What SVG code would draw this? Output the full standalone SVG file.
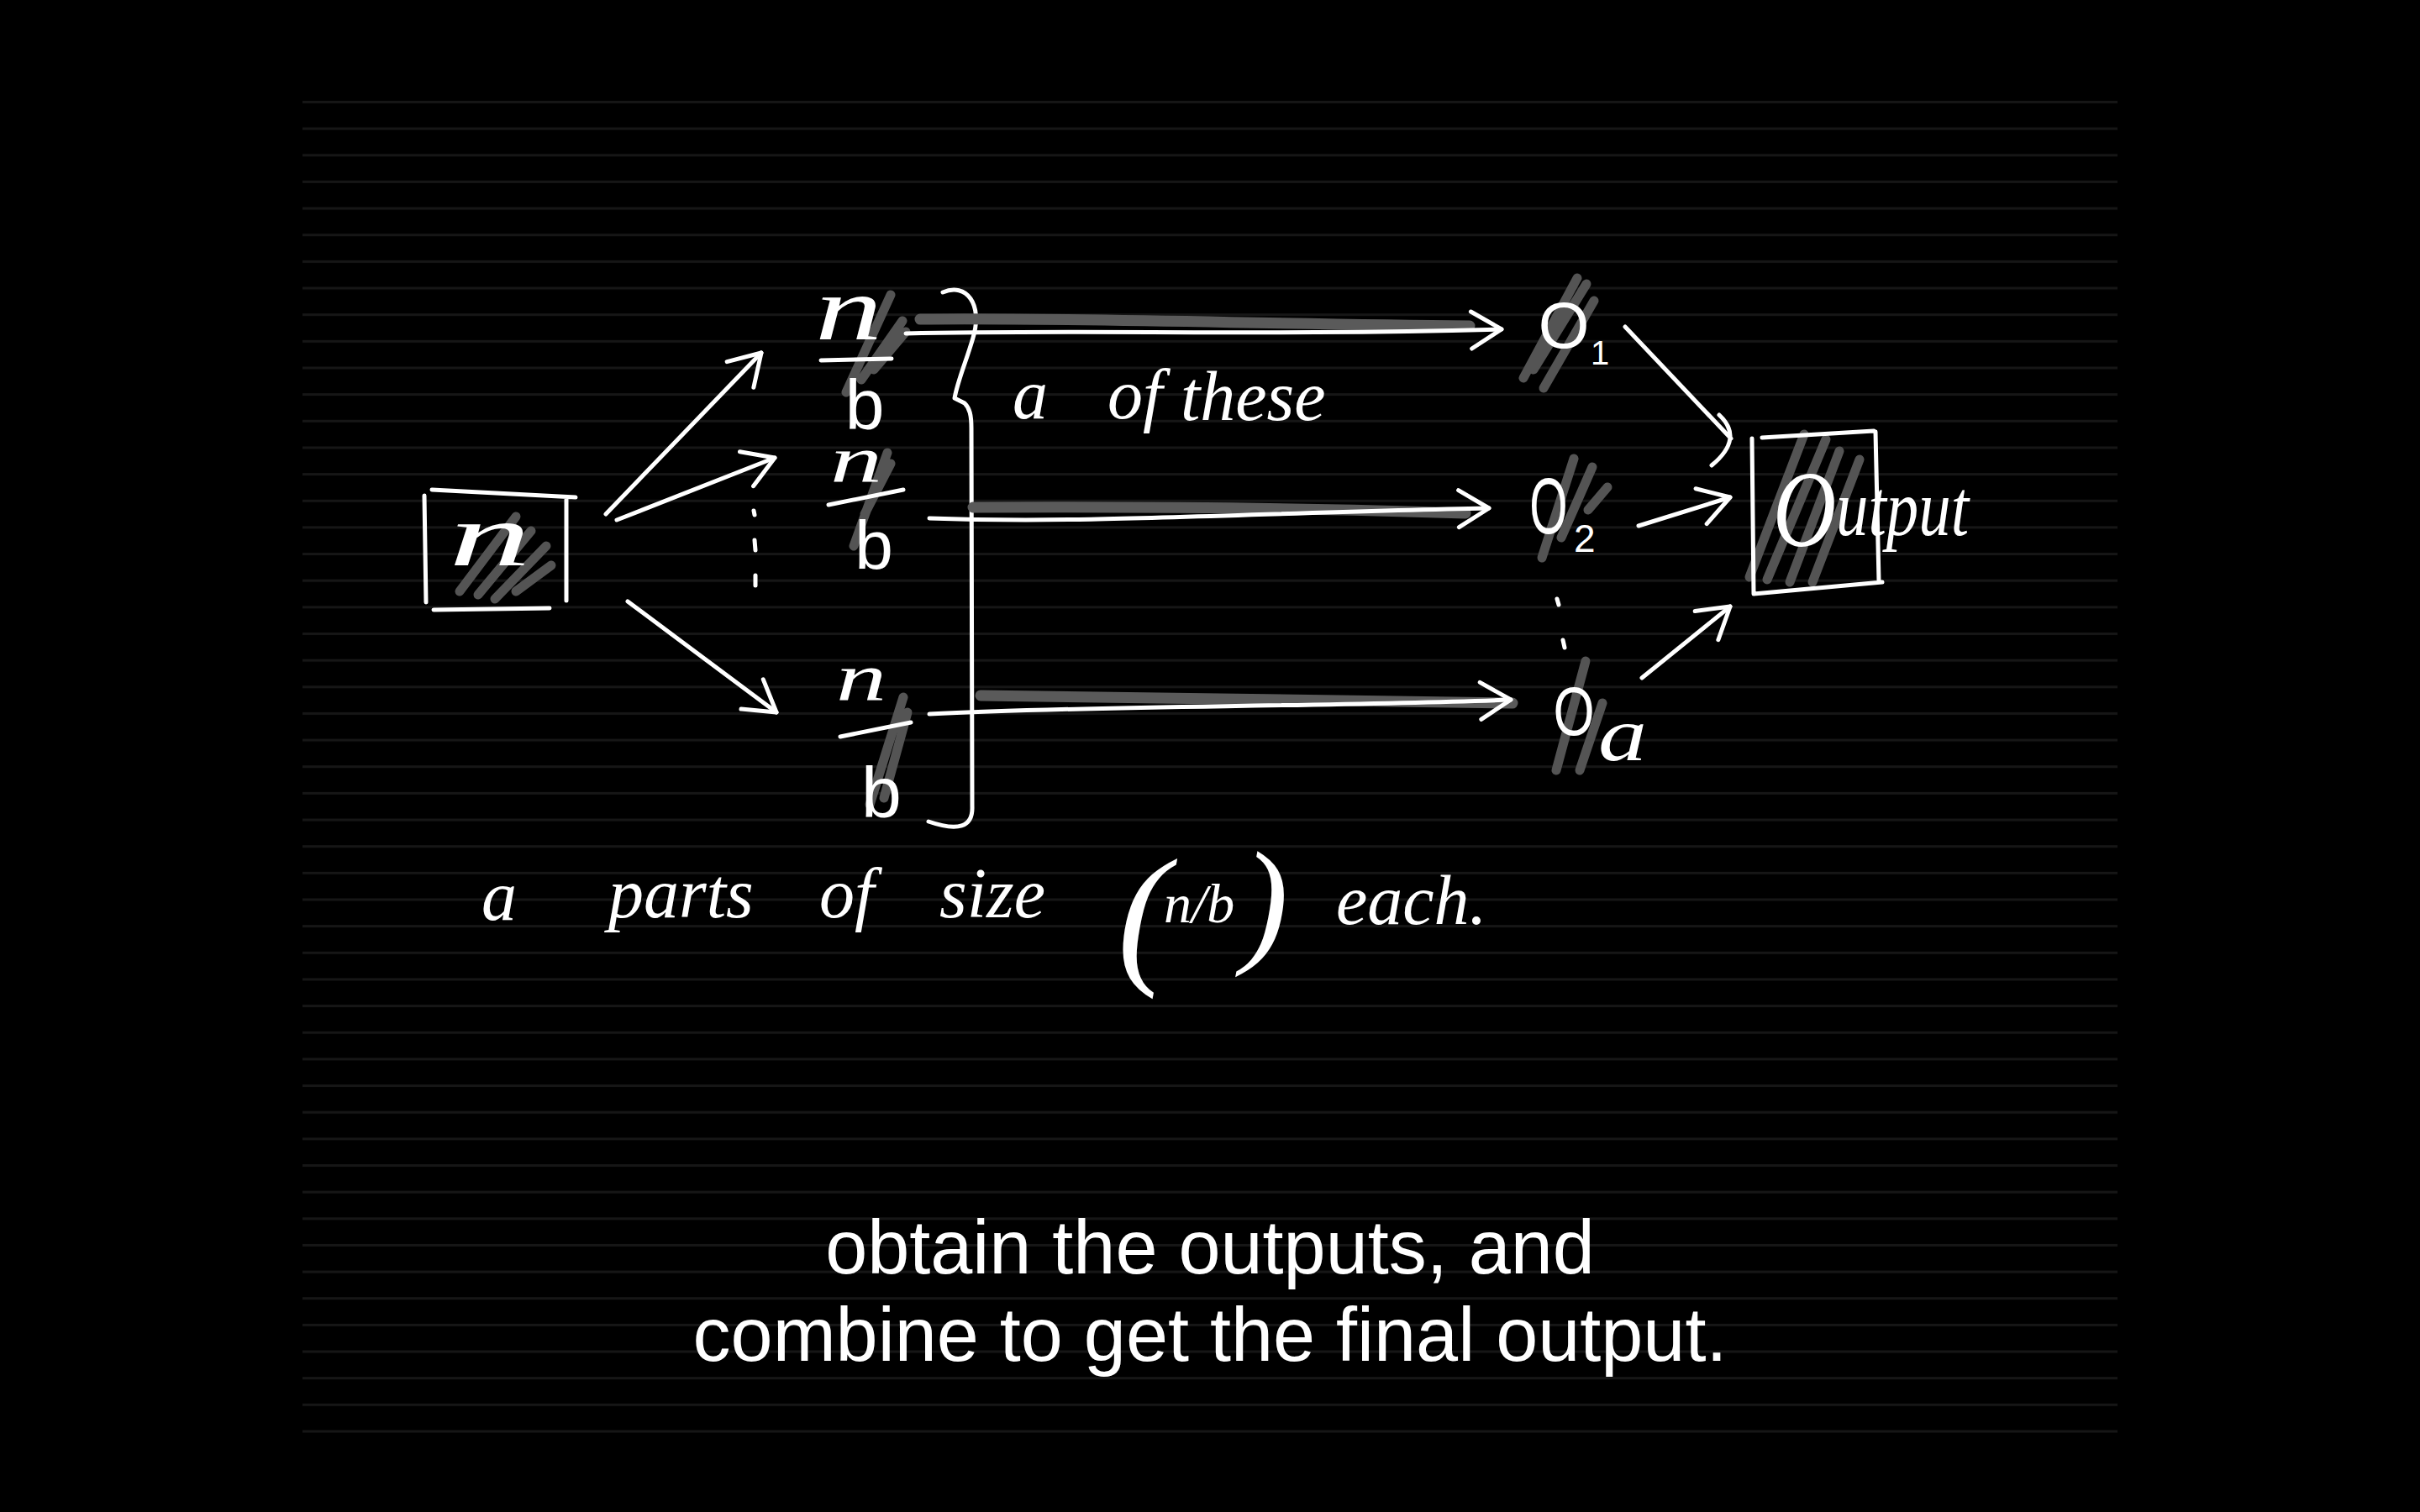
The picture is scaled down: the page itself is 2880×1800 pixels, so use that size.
<svg xmlns="http://www.w3.org/2000/svg" width="2880" height="1800" viewBox="0 0 2880 1800">
<defs>
<pattern id="rules" x="360" y="120" width="2160" height="31.65" patternUnits="userSpaceOnUse">
<rect x="0" y="0" width="2160" height="3" fill="#161616"/>
</pattern>
<marker id="head" markerUnits="userSpaceOnUse" markerWidth="50" markerHeight="50" viewBox="0 0 50 50" refX="46" refY="25" orient="auto">
<path d="M10,3 L46,25 L10,47" fill="none" stroke="#fff" stroke-width="5" stroke-linecap="round" stroke-linejoin="round"/>
</marker>
<style>
.ink{fill:none;stroke:#fff;stroke-width:5;stroke-linecap:round;stroke-linejoin:round}
.hatch{fill:none;stroke:#545454;stroke-width:11;stroke-linecap:round}
.band{fill:none;stroke:#5a5a5a;stroke-width:13;stroke-linecap:round}
.hand{font-family:"Liberation Serif","DejaVu Serif",serif;font-style:italic;fill:#fff}
.hb{font-family:"Liberation Sans","DejaVu Sans",sans-serif;fill:#fff}
.cap{font-family:"Liberation Sans",Arial,sans-serif;font-size:90px;fill:#fff}
</style>
</defs>
<rect width="2880" height="1800" fill="#000"/>
<rect id="ruled-paper" x="360" y="120" width="2160" height="1586" fill="url(#rules)"/>

<g id="node-n">
<path class="hatch" d="M547,704 L614,615 M569,708 L632,632 M589,713 L650,650 M614,704 L656,673"/>
<path class="ink" d="M505,590 L507,717 M514,583 L685,592 M674,595 L674,715 M516,726 L654,724"/>
<text class="hand" x="583" y="673" text-anchor="middle" font-size="105" textLength="98" lengthAdjust="spacingAndGlyphs">n</text>
</g>

<g id="node-nb1">
<path class="hatch" d="M1007,467 L1060,351 M1025,452 L1074,382 M1040,440 L1078,395"/>
<text class="hand" x="1010" y="404" text-anchor="middle" font-size="108" textLength="80" lengthAdjust="spacingAndGlyphs">n</text>
<path class="ink" d="M977,429 L1061,427"/>
<text class="hb" x="1029" y="511" text-anchor="middle" font-size="84">b</text>
</g>

<g id="node-nb2">
<path class="hatch" d="M1016,650 L1056,539 M1029,612 L1060,552"/>
<text class="hand" x="1019" y="574" text-anchor="middle" font-size="78" textLength="62" lengthAdjust="spacingAndGlyphs">n</text>
<path class="ink" d="M986,601 L1075,583"/>
<text class="hb" x="1040" y="677" text-anchor="middle" font-size="82">b</text>
</g>

<g id="node-nb3">
<path class="hatch" d="M1035,958 L1075,830 M1052,950 L1080,848"/>
<text class="hand" x="1025" y="833" text-anchor="middle" font-size="80" textLength="60" lengthAdjust="spacingAndGlyphs">n</text>
<path class="ink" d="M1000,877 L1084,860"/>
<text class="hb" x="1049" y="973" text-anchor="middle" font-size="86">b</text>
</g>

<g id="dots-left">
<path class="ink" d="M897,608 L898,613 M898,643 L899,655 M899,685 L899,697"/>
</g>

<g id="brace">
<path class="ink" d="M1122,348 C1150,336 1170,362 1158,402 C1150,430 1140,452 1136,474 L1148,480 C1154,486 1156,494 1156,510 L1157,960 C1158,985 1140,990 1105,978"/>
</g>

<g id="note-these">
<text class="hand" font-size="84"><tspan x="1205" y="498">a </tspan><tspan x="1318" y="498">of </tspan><tspan x="1405" y="500">these</tspan></text>
</g>

<g id="node-o1">
<path class="hatch" d="M1813,450 L1877,331 M1837,462 L1897,358 M1825,440 L1888,338"/>
<text class="hb" x="1861" y="414" text-anchor="middle" font-size="78">O</text>
<text class="hb" x="1893" y="434" font-size="40">1</text>
</g>

<g id="node-o2">
<path class="hatch" d="M1835,664 L1873,546 M1890,607 L1913,580 M1858,640 L1895,556"/>
<text class="hb" transform="translate(1843,635) scale(0.62,1)" text-anchor="middle" font-size="94">O</text>
<text class="hb" x="1873" y="657" font-size="46">2</text>
</g>

<g id="dots-right">
<path class="ink" d="M1853,713 L1855,720 M1860,762 L1862,771"/>
</g>

<g id="node-oa">
<path class="hatch" d="M1852,917 L1887,787 M1880,917 L1907,837"/>
<text class="hb" transform="translate(1873,875) scale(0.77,1)" text-anchor="middle" font-size="82">O</text>
<text class="hand" x="1902" y="905" font-size="90" textLength="58" lengthAdjust="spacingAndGlyphs">a</text>
</g>

<g id="node-output">
<path class="hatch" d="M2082,687 L2147,517 M2103,690 L2173,523 M2130,693 L2189,537 M2157,693 L2213,547"/>
<path class="ink" d="M2085,522 L2087,707 M2097,521 L2230,513 M2232,514 L2236,692 M2240,693 L2087,707"/>
<text class="hand" transform="translate(2110,650) scale(0.8,1)"><tspan font-size="130">O</tspan><tspan font-size="96" dy="-13">utput</tspan></text>
</g>

<g id="connectors">
<path class="band" d="M1095,380 C1300,378 1500,386 1749,388 M1158,604 C1400,603 1600,606 1744,611 M1167,828 C1400,830 1600,834 1800,837"/>
<path class="ink" marker-end="url(#head)" d="M721,612 L906,420"/>
<path class="ink" marker-end="url(#head)" d="M734,619 L922,545"/>
<path class="ink" marker-end="url(#head)" d="M747,716 L924,848"/>
<path class="ink" marker-end="url(#head)" d="M1078,397 C1300,392 1500,400 1787,392"/>
<path class="ink" marker-end="url(#head)" d="M1106,617 C1300,624 1500,610 1772,605"/>
<path class="ink" marker-end="url(#head)" d="M1106,850 C1300,840 1550,842 1798,833"/>
<path class="ink" d="M1934,389 L2060,522 M2046,494 Q2076,522 2037,554"/>
<path class="ink" marker-end="url(#head)" d="M1950,626 L2059,592"/>
<path class="ink" marker-end="url(#head)" d="M1954,807 L2059,722"/>
</g>

<g id="note-parts">
<text class="hand" font-size="84"><tspan x="573" y="1095">a </tspan><tspan x="724" y="1092">parts </tspan><tspan x="975" y="1092">of </tspan><tspan x="1118" y="1092">size </tspan><tspan x="1330" y="1150" font-size="185">(</tspan><tspan x="1385" y="1098" font-size="66">n/b</tspan><tspan x="1478" y="1128" font-size="165">) </tspan><tspan x="1590" y="1100">each.</tspan></text>
</g>

<g id="caption">
<text class="cap" text-anchor="middle"><tspan x="1440" y="1516">obtain the outputs, and</tspan><tspan x="1440" y="1620">combine to get the final output.</tspan></text>
</g>
</svg>
